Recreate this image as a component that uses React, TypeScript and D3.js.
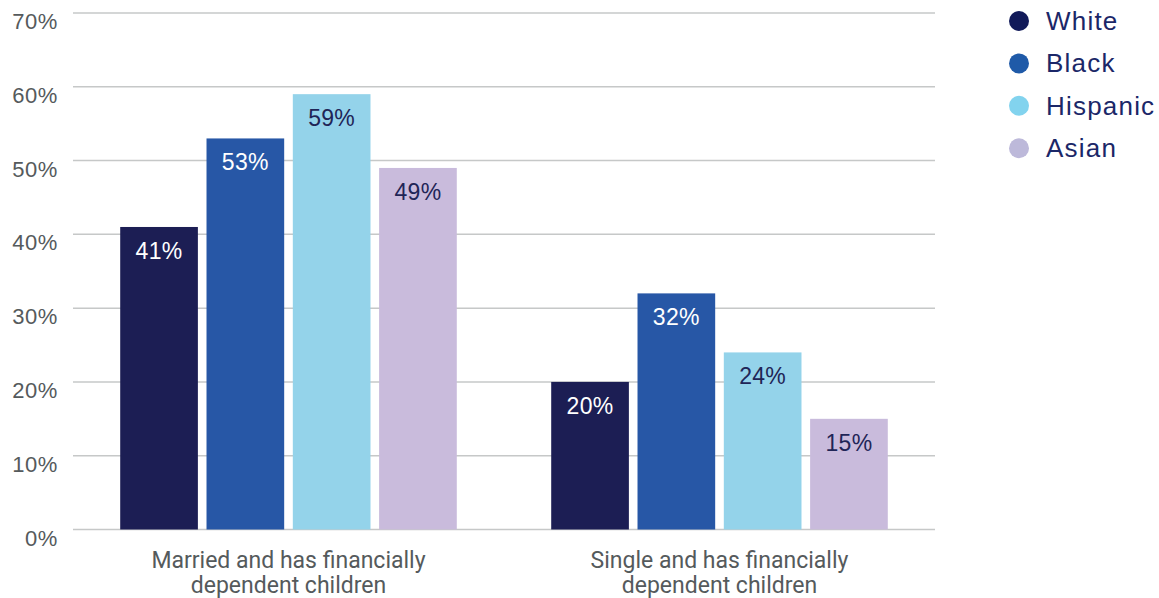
import React from "react";
import * as d3 from "d3";

const categories = ["Married and has financially dependent children", "Single and has financially dependent children"];
const categoryLines = [
  ["Married and has financially", "dependent children"],
  ["Single and has financially", "dependent children"],
];
const seriesNames = ["White", "Black", "Hispanic", "Asian"];
const white = [41, 20];
const black = [53, 32];
const hispanic = [59, 24];
const asian = [49, 15];
const yTicks = [0, 10, 20, 30, 40, 50, 60, 70];

const colors = ["#1c1e54", "#2757a6", "#94d3ea", "#c9bbdc"];
const legendColors = ["#111a59", "#1f5aa8", "#82d3ee", "#bdb9da"];
const labelColors = ["#ffffff", "#ffffff", "#1f2557", "#1f2557"];

const W = 1159;
const H = 598;
const left = 73;
const right = 935;
const top = 13;
const bottom = 529.5;

export default function App() {
  const series = [white, black, hispanic, asian];
  const x0 = d3.scaleBand<number>().domain(categories.map((_, i) => i)).range([left, right]).padding(0);
  const x1 = d3
    .scaleBand<number>()
    .domain(seriesNames.map((_, i) => i))
    .range([0, x0.bandwidth()])
    .paddingInner(0.1)
    .paddingOuter(0.547);
  const y = d3.scaleLinear().domain([0, 70]).range([bottom, top]);

  const font = "'Liberation Sans', Arial, Helvetica, sans-serif";

  return (
    <svg width={W} height={H} style={{ position: "absolute", left: 0, top: 0, background: "#fff" }}>
      {yTicks.map((t) => (
        <g key={t}>
          <line x1={left} x2={right} y1={y(t)} y2={y(t)} stroke="#c6c8c8" strokeWidth={1.5} />
          <text
            x={58}
            y={y(t) + 16}
            textAnchor="end"
            fontFamily={font}
            fontSize={22}
            letterSpacing={0.6}
            fill="#555a5c"
          >
            {t}%
          </text>
        </g>
      ))}
      {categories.map((c, ci) => (
        <g key={c} transform={`translate(${x0(ci)},0)`}>
          {series.map((s, si) => {
            const bx = x1(si)!;
            const by = y(s[ci]);
            return (
              <g key={si}>
                <rect x={bx} y={by} width={x1.bandwidth()} height={bottom - by} fill={colors[si]} />
                <text
                  x={bx + x1.bandwidth() / 2}
                  y={by + 32}
                  textAnchor="middle"
                  fontFamily={font}
                  fontSize={23}
                  letterSpacing={0.3}
                  fill={labelColors[si]}
                >
                  {s[ci]}%
                </text>
              </g>
            );
          })}
          {categoryLines[ci].map((line, li) => (
            <text
              key={li}
              x={x0.bandwidth() / 2}
              y={568 + li * 25}
              textAnchor="middle"
              fontFamily="'Liberation Sans Narrow', 'Roboto', sans-serif"
              fontSize={23}
              fill="#555a5c"
            >
              {line}
            </text>
          ))}
        </g>
      ))}
      {seriesNames.map((n, i) => (
        <g key={n} transform={`translate(0,${21 + i * 42.4})`}>
          <circle cx={1019} cy={0} r={10} fill={legendColors[i]} />
          <text x={1046} y={9} fontFamily={font} fontSize={26} letterSpacing={1.2} fill="#1b2768">
            {n}
          </text>
        </g>
      ))}
    </svg>
  );
}
